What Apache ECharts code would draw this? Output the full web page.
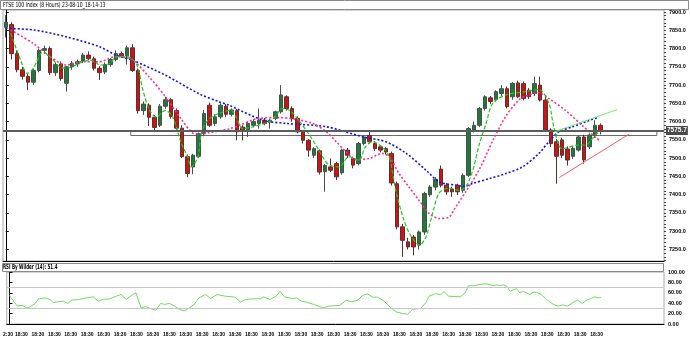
<!DOCTYPE html>
<html><head><meta charset="utf-8">
<script src="https://cdn.jsdelivr.net/npm/echarts@6/dist/echarts.min.js"></script>
<style>html,body{margin:0;padding:0;background:#fff;overflow:hidden}#c{width:690px;height:352px}</style>
</head><body><div id="c"></div>
<script>
// ---------- data ----------
const titleText = 'FTSE 100 Index (8 Hours) 23-08-10_18-14-13';
const rsiTitle = 'RSI By Wilder (14): 51.4';
const lastPrice = 7575.7;

const openArr = [7858,7866,7786,7742,7724,7708,7740,7795,7800,7734,
7758,7705,7750,7758,7766,7782,7772,7746,7736,7756,
7770,7786,7780,7802,7740,7630,7645,7612,7590,7642,
7660,7630,7582,7504,7476,7505,7567,7645,7595,7613,
7642,7620,7630,7585,7578,7590,7595,7604,7599,7609,
7627,7668,7636,7609,7572,7549,7508,7520,7463,7476,
7485,7460,7522,7499,7485,7540,7562,7540,7531,7526,
7513,7430,7312,7271,7284,7262,7298,7400,7421,7470,
7426,7415,7426,7412,7453,7577,7590,7636,7665,7660,
7677,7690,7668,7706,7704,7686,7677,7700,7659,7577,
7545,7550,7525,7505,7522,7558,7531,7563,7590];
const highArr = [7892,7872,7795,7750,7730,7745,7800,7808,7806,7762,
7765,7752,7766,7770,7788,7792,7778,7752,7762,7774,
7795,7792,7808,7812,7745,7655,7650,7618,7648,7668,
7664,7636,7590,7510,7512,7570,7632,7652,7620,7650,
7648,7636,7635,7590,7600,7606,7636,7610,7608,7630,
7700,7672,7642,7614,7576,7552,7530,7524,7484,7499,
7490,7526,7528,7504,7544,7562,7572,7546,7536,7530,
7518,7436,7320,7282,7290,7302,7408,7426,7448,7480,
7432,7422,7430,7458,7585,7600,7640,7672,7670,7686,
7700,7696,7708,7712,7710,7692,7723,7723,7668,7582,
7552,7556,7532,7532,7562,7564,7568,7604,7595];
const lowArr = [7830,7770,7735,7715,7686,7700,7735,7785,7728,7725,
7712,7682,7742,7750,7760,7768,7740,7714,7730,7750,
7765,7776,7756,7736,7622,7618,7588,7576,7585,7635,
7608,7578,7500,7448,7456,7500,7560,7585,7588,7608,
7612,7614,7549,7549,7558,7584,7581,7590,7581,7604,
7622,7630,7600,7568,7540,7504,7500,7455,7408,7462,
7440,7455,7500,7472,7480,7535,7540,7520,7516,7510,
7425,7305,7230,7250,7234,7250,7290,7394,7412,7420,
7400,7394,7399,7405,7448,7570,7585,7630,7648,7655,
7670,7636,7660,7664,7658,7662,7670,7655,7572,7530,
7430,7500,7480,7498,7518,7485,7525,7555,7565];
const closeArr = [7872,7786,7742,7724,7708,7740,7795,7800,7734,7756,
7718,7750,7760,7764,7782,7772,7746,7734,7756,7770,
7786,7780,7802,7740,7630,7648,7612,7584,7642,7660,
7614,7582,7504,7458,7508,7567,7622,7590,7613,7645,
7620,7632,7572,7577,7595,7600,7604,7595,7604,7627,
7673,7636,7608,7572,7549,7522,7526,7462,7480,7467,
7449,7522,7508,7481,7540,7558,7545,7526,7522,7517,
7432,7312,7275,7257,7257,7298,7403,7421,7442,7426,
7408,7408,7408,7453,7581,7590,7636,7668,7655,7682,
7690,7641,7705,7668,7663,7668,7704,7659,7577,7540,
7505,7508,7495,7527,7558,7495,7563,7590,7575.7];

// moving averages: [bar position, price]
const maSlow = [[0,7855],[5,7851],[11,7832],[17,7805],[20,7782],[23,7768],[29,7727],[35,7677],[38.8,7654],[40.5,7645],[46.7,7604],[50.9,7595],[58.2,7586],[64.9,7558],[69,7545],[72.7,7513],[76.3,7467],[78.7,7435],[81.7,7426],[83.2,7423],[84.8,7431],[87.8,7444],[90.8,7458],[93.8,7476],[96.8,7513],[98.6,7545],[100.4,7572],[102.9,7586],[107.7,7613]];
const maMid = [[0.9,7851],[5,7814],[8,7778],[11,7755],[14,7764],[17,7764],[20,7778],[23,7768],[26,7723],[29,7668],[32,7604],[34,7568],[35,7566],[37,7570],[40.5,7580],[42.4,7590],[46,7609],[49.7,7611],[52.7,7606],[55.7,7595],[58.2,7572],[60,7545],[61.8,7517],[63.6,7496],[66,7499],[68.3,7513],[69.6,7504],[71.4,7458],[73.2,7421],[75,7385],[76.9,7348],[78.7,7335],[80.5,7339],[81.5,7362],[83.6,7410],[86,7470],[88.4,7547],[90.8,7615],[93.2,7660],[94.4,7670],[96.8,7679],[98.6,7663],[101.6,7631],[104.6,7590],[107.7,7549]];
const maFast = [[0.9,7842],[2.7,7768],[3.9,7732],[5,7746],[6.8,7791],[8,7778],[9.8,7750],[11,7746],[14,7764],[15.9,7768],[17,7755],[18.9,7759],[20.1,7778],[21.9,7778],[23.7,7759],[24.9,7686],[26.1,7631],[27.3,7613],[29,7631],[30.3,7613],[31.9,7540],[33,7504],[33.7,7476],[34.9,7504],[35.5,7568],[36.7,7604],[38.6,7622],[40.9,7631],[41.8,7613],[43,7581],[44.9,7586],[47.9,7600],[49.1,7618],[50.3,7636],[51.5,7631],[52.7,7613],[54.5,7577],[56.3,7536],[57.5,7504],[58.7,7481],[60.5,7476],[62.3,7504],[64.1,7494],[65.3,7531],[66.5,7545],[68.3,7531],[69.6,7504],[70.8,7412],[72.1,7339],[73.3,7294],[75.1,7262],[76.3,7285],[77.5,7350],[78.7,7405],[80.5,7418],[82.3,7412],[83.5,7421],[84.8,7467],[86,7540],[87.2,7595],[88.4,7650],[90.8,7673],[94.4,7682],[96.8,7688],[98.6,7650],[99.5,7586],[101,7526],[104,7536],[105.2,7536],[107,7563],[107.7,7572]];

const greenTrend = [[99.6,7572],[111.0,7633]];
const redTrend = [[100.5,7447],[113.2,7566]];
const zoneX = [22.7, 118.2];
const zoneY = [7562, 7575.7];

const rsiPoints = [[0,54.7],[1.4,34.6],[2.3,35.8],[2.9,32.7],[3.5,31.4],[4.7,39.6],[5.3,48.4],[6.5,50.3],[7.4,47.2],[8.0,40.9],[8.9,42.8],[9.8,44.0],[10.7,39.6],[11.3,45.9],[12.6,47.2],[14.1,50.3],[15.3,52.2],[16.2,44.0],[17.1,47.2],[18.3,48.4],[19.5,53.5],[20.4,56.6],[21.3,47.2],[22.5,56.6],[23.1,59.7],[24.0,31.4],[24.9,33.3],[26.1,28.3],[26.7,26.4],[27.6,39.6],[28.3,37.7],[29.2,39.6],[30.1,34.6],[31.0,28.3],[31.9,25.2],[32.5,28.3],[33.7,37.7],[34.6,50.3],[35.8,56.6],[36.7,49.1],[37.9,56.6],[39.4,53.5],[41.2,51.6],[42.2,42.1],[42.8,45.9],[44.0,48.4],[45.8,48.4],[46.4,52.2],[47.6,47.2],[48.8,54.7],[49.4,62.9],[50.2,52.2],[51.8,48.4],[52.4,50.3],[53.3,44.0],[54.2,42.1],[55.5,37.7],[57.3,31.4],[58.5,34.6],[60.3,35.8],[61.5,45.9],[62.4,42.8],[63.6,45.9],[64.5,55.3],[65.4,57.9],[66.3,51.6],[67.2,51.6],[68.4,44.0],[69.6,31.4],[70.6,23.3],[71.8,20.1],[72.7,18.9],[73.6,28.3],[75.1,30.2],[76.0,40.9],[76.6,53.5],[77.8,58.5],[78.7,56.0],[79.3,62.3],[80.2,53.5],[82.3,52.2],[83.2,59.7],[83.8,73.6],[84.7,73.6],[85.6,75.5],[86.9,77.4],[87.8,75.5],[88.4,73.6],[89.0,75.5],[89.6,73.6],[90.2,75.5],[90.8,72.3],[91.4,62.9],[92.0,66.0],[92.6,67.9],[93.2,59.7],[93.8,62.9],[94.4,59.7],[95.0,56.6],[95.6,61.0],[96.2,61.0],[97.1,56.6],[98.0,47.2],[99.3,37.7],[100.1,34.6],[101.0,36.5],[101.9,34.6],[102.8,40.9],[103.7,45.9],[104.6,39.6],[105.5,47.2],[106.1,48.4],[106.7,52.2],[107.6,50.3],[108,51.4]];
const rsiLevels = [30, 70];

const priceTicks = [7250,7300,7350,7400,7450,7500,7550,7600,7650,7700,7750,7800,7850,7900];
const rsiTicks = [0,20,40,60,80,100];
const tickIndex = [0,2,5,8,11,14,17,20,23,26,29,32,35,38,41,44,47,50,53,56,59,62,65,68,71,74,77,80,83,86,89,92,95,98,101,104,107];
const tickText = ['2:30','18:30','18:30','18:30','18:30','18:30','18:30','18:30','18:30','18:30','18:30','18:30','18:30','18:30','18:30','18:30','18:30','18:30','18:30','18:30','18:30','18:30','18:30','18:30','18:30','18:30','18:30','18:30','18:30','18:30','18:30','18:30','18:30','18:30','18:30','18:30','18:30'];

// ---------- chart ----------
const SLOTS = 120;
const slots = Array.from({length: SLOTS}, (_, i) => i);
const tickMap = {}; tickIndex.forEach((v, k) => { tickMap[v] = tickText[k]; });
const firstTick = tickIndex[0];
const candles = openArr.map((o, i) => [o, closeArr[i], lowArr[i], highArr[i]]);
const Y_MAX = 7905.5, Y_MIN = 7218.5;
const minorTicks = [];
for (let v = 7220; v <= 7900; v += 10) minorTicks.push(v);
const LAB = "'Liberation Sans',Arial,sans-serif";
const COND = "'DejaVu Sans Condensed','DejaVu Sans',sans-serif";
const xLabelStyle = {fontFamily: LAB, fontSize: 5, fontWeight: 'bold', color: '#000', margin: 8};

const chart = echarts.init(document.getElementById('c'), null, {renderer: 'canvas'});
const option = {
  animation: false,
  backgroundColor: '#fff',
  grid: [
    {left: 3, top: 10, width: 661, height: 251, show: true, borderColor: '#a8a8a8', borderWidth: 1, backgroundColor: '#fff'},
    {left: 3, top: 272, width: 661, height: 52, show: true, borderColor: '#a8a8a8', borderWidth: 1, backgroundColor: '#fff'}
  ],
  xAxis: [
    {type: 'category', gridIndex: 0, data: slots, boundaryGap: true,
     axisLine: {lineStyle: {color: '#000'}}, axisTick: {show: false}, axisLabel: {show: false}, splitLine: {show: false}},
    {type: 'value', gridIndex: 0, min: -0.5, max: SLOTS - 0.5, show: false},
    {type: 'category', gridIndex: 1, position: 'bottom', data: slots, boundaryGap: true,
     axisLine: {lineStyle: {color: '#000'}}, axisTick: {show: false},
     axisLabel: Object.assign({interval: (i) => i !== firstTick && tickMap[i] !== undefined, formatter: (v, i) => tickMap[i] || '',
       showMinLabel: true, showMaxLabel: true, hideOverlap: false, padding: [0, 0, 0, 2]}, xLabelStyle), splitLine: {show: false}},
    {type: 'value', gridIndex: 1, min: -0.5, max: SLOTS - 0.5, show: false},
    {type: 'category', gridIndex: 1, position: 'bottom', offset: 0, data: slots, boundaryGap: true,
     axisLine: {show: false}, axisTick: {show: false},
     axisLabel: Object.assign({interval: (i) => i === firstTick, formatter: (v, i) => (i === firstTick ? tickMap[i] : ''),
       showMinLabel: true, showMaxLabel: false, padding: [0, 3, 0, 0]}, xLabelStyle), splitLine: {show: false}}
  ],
  yAxis: [
    {type: 'value', gridIndex: 0, position: 'right', min: Y_MIN, max: Y_MAX,
     axisLine: {show: true, lineStyle: {color: '#000'}},
     axisTick: {show: true, length: 3, customValues: priceTicks, lineStyle: {color: '#000'}},
     axisLabel: {customValues: priceTicks, formatter: (v) => v.toFixed(1), fontFamily: LAB, fontSize: 5.5, fontWeight: 'bold', color: '#000', margin: 5},
     splitLine: {show: false}},
    {type: 'value', gridIndex: 0, position: 'right', min: Y_MIN, max: Y_MAX,
     axisLine: {show: false}, axisTick: {show: true, length: 2, customValues: minorTicks, lineStyle: {color: '#444'}},
     axisLabel: {show: false}, splitLine: {show: false}},
    {type: 'value', gridIndex: 1, position: 'right', min: 0, max: 100, interval: 20,
     axisLine: {show: true, lineStyle: {color: '#000'}},
     axisTick: {show: true, length: 3, customValues: rsiTicks, lineStyle: {color: '#000'}},
     axisLabel: {customValues: rsiTicks, formatter: (v) => v.toFixed(2), fontFamily: LAB, fontSize: 5.5, fontWeight: 'bold', color: '#000', margin: 4},
     splitLine: {show: false}}
  ],
  graphic: [
    {type: 'rect', shape: {x: 0.5, y: 0.5, width: 688, height: 9}, style: {fill: '#fff', stroke: '#8a8a8a', lineWidth: 1}, z: 10},
    {type: 'text', x: 3, y: 5, scaleX: 0.72, style: {text: titleText, font: "7px " + COND, fill: '#000', textVerticalAlign: 'middle'}, z: 11},
    {type: 'rect', shape: {x: 2.5, y: 263.5, width: 661, height: 8}, style: {fill: '#fff', stroke: '#8a8a8a', lineWidth: 1}, z: 10},
    {type: 'text', x: 3, y: 267.5, scaleX: 0.64, style: {text: rsiTitle, font: "bold 7px " + COND, fill: '#000', textVerticalAlign: 'middle'}, z: 11}
  ],
  series: [
    {type: 'candlestick', xAxisIndex: 0, yAxisIndex: 0, data: candles, barWidth: 4, z: 2,
     itemStyle: {color: '#1d7a3b', color0: '#cc1414', borderColor: '#4d4d4d', borderColor0: '#5a3030', borderWidth: 1},
     markLine: {silent: true, symbol: ['none', 'none'], animation: false,
       lineStyle: {color: '#5c5c5c', width: 2, type: 'solid'},
       label: {show: true, position: 'end', formatter: () => lastPrice.toFixed(1), backgroundColor: '#4a4a4a', color: '#fff',
         fontFamily: LAB, fontSize: 6.5, fontWeight: 'bold', padding: [1, 1], distance: 2},
       data: [{yAxis: lastPrice}]}},
    {type: 'line', name: 'slow', xAxisIndex: 1, yAxisIndex: 0, data: maSlow, showSymbol: false, smooth: 0.3, z: 4,
     lineStyle: {color: '#1212f0', width: 1.6, type: [2, 2]}},
    {type: 'line', name: 'mid', xAxisIndex: 1, yAxisIndex: 0, data: maMid, showSymbol: false, smooth: 0.3, z: 4,
     lineStyle: {color: '#ff2f8f', width: 1.6, type: [2, 2]}},
    {type: 'line', name: 'fast', xAxisIndex: 1, yAxisIndex: 0, data: maFast, showSymbol: false, smooth: 0.3, z: 4,
     lineStyle: {color: '#1ccc1c', width: 1.2, type: [4, 2]}},
    {type: 'line', name: 'greenTrend', xAxisIndex: 1, yAxisIndex: 0, data: greenTrend, showSymbol: false, z: 5,
     lineStyle: {color: '#6ef060', width: 1}},
    {type: 'line', name: 'redTrend', xAxisIndex: 1, yAxisIndex: 0, data: redTrend, showSymbol: false, z: 5,
     lineStyle: {color: '#ff5c5c', width: 1},
     markArea: {silent: true, itemStyle: {color: 'rgba(0,0,0,0)', borderColor: '#6a6a6a', borderWidth: 1},
       data: [[{coord: [zoneX[0], zoneY[1]]}, {coord: [zoneX[1], zoneY[0]]}]]}},
    {type: 'line', name: 'rsi', xAxisIndex: 3, yAxisIndex: 2, data: rsiPoints, showSymbol: false, z: 4,
     lineStyle: {color: '#70dc60', width: 1},
     markLine: {silent: true, symbol: ['none', 'none'], label: {show: false},
       lineStyle: {color: '#c8c8c8', width: 1, type: 'solid'},
       data: rsiLevels.map(v => ({yAxis: v}))}}
  ]
};
chart.setOption(option);
</script></body></html>
